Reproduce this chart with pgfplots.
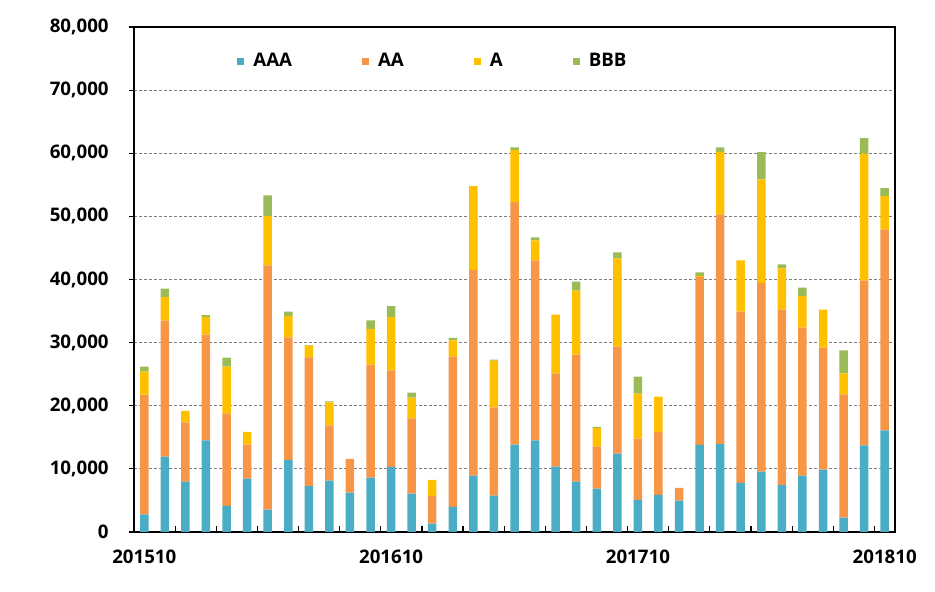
\documentclass[border=0pt]{standalone}
\usepackage{fontspec}
\setmainfont{Open Sans}
\usepackage{pgfplots}
\usepackage{pgfplotstable}
\pgfplotsset{compat=1.18}
\definecolor{cAAA}{HTML}{4BACC6}
\definecolor{cAA}{HTML}{F79646}
\definecolor{cA}{HTML}{FFC000}
\definecolor{cBBB}{HTML}{9BBB59}
\pgfplotsset{sqleg/.style={legend image code/.code={\fill[##1,draw=none] (0pt,-1.75pt) rectangle (3.5pt,1.75pt);}}}
\pgfplotstableread{
x AAA AA A BBB
0 2810 18940 3650 790
1 11950 21540 3700 1380
2 7990 9360 1850 0
3 14500 16770 2750 320
4 4130 14650 7410 1430
5 8460 5400 2010 0
6 3540 38680 7830 3280
7 11430 19410 3340 740
8 7250 20420 1850 80
9 8150 8730 3650 160
10 6240 5350 0 0
11 8620 17890 5610 1420
12 10320 15290 8460 1700
13 6080 11910 3280 790
14 1320 4390 2540 0
15 3970 23810 2590 370
16 8940 32540 13330 0
17 5770 13970 7400 160
18 13860 38410 8210 470
19 14500 28520 3170 480
20 10370 14760 9310 0
21 7990 20110 10150 1430
22 6880 6670 2900 220
23 12430 16940 13960 960
24 5100 9680 7150 2700
25 5870 10000 5560 0
26 4970 2010 0 0
27 13810 26560 200 540
28 13920 36400 9890 740
29 7780 27140 8100 0
30 9580 29840 16450 4290
31 7460 27780 6510 630
32 8940 23440 4970 1380
33 9900 19310 6030 0
34 2280 19520 3330 3650
35 13710 26130 20110 2430
36 16080 31860 5280 1270
}\data
\begin{document}
\begin{tikzpicture}
\path[use as bounding box] (0,0) rectangle (467.5pt,296pt);
\begin{axis}[
  at={(67pt,30pt)}, anchor=south west,
  scale only axis, width=380.5pt, height=252.5pt,
  ybar stacked, bar width=4.25pt,
  xmin=-0.5, xmax=36.5, ymin=0, ymax=80000,
  ytick={0,10000,...,80000},
  scaled y ticks=false,
  /pgf/number format/1000 sep={,},
  /pgf/number format/assume math mode=true,
  ymajorgrids,
  grid style={gray, dash pattern=on 1.5pt off 1pt, line width=0.4pt},
  axis line style={black, line width=0.6pt},
  tick style={black, line width=0.6pt},
  tick align=outside, tick pos=left, major tick length=2.5pt,
  xtick={1.5,3.5,...,35.5}, xticklabels={},
  xtick style={yshift=3pt},
  extra x ticks={0,12,24,36},
  extra x tick labels={201510,201610,201710,201810},
  extra x tick style={major tick length=0pt},
  tick label style={font=\bfseries\fontsize{9.35}{11}\selectfont},
  xticklabel style={anchor=north, inner sep=0pt, yshift=-9pt},
  yticklabel style={anchor=east, inner sep=0pt, xshift=-10pt},
  legend columns=4,
  legend style={at={(0.1353,0.932)}, anchor=west, draw=none, fill=none,
    inner sep=0pt, font=\bfseries\fontsize{9.35}{11}\selectfont,
    nodes={inner sep=0pt},
    /tikz/every odd column/.style={column sep=4.5pt},
    /tikz/every even column/.style={column sep=35pt}},
]
\addplot[fill=cAAA, draw=none, sqleg] table[x=x,y=AAA]{\data};
\addplot[fill=cAA, draw=none, sqleg] table[x=x,y=AA]{\data};
\addplot[fill=cA, draw=none, sqleg] table[x=x,y=A]{\data};
\addplot[fill=cBBB, draw=none, sqleg] table[x=x,y=BBB]{\data};
\legend{AAA,AA,A,BBB}
\end{axis}
\end{tikzpicture}
\end{document}
